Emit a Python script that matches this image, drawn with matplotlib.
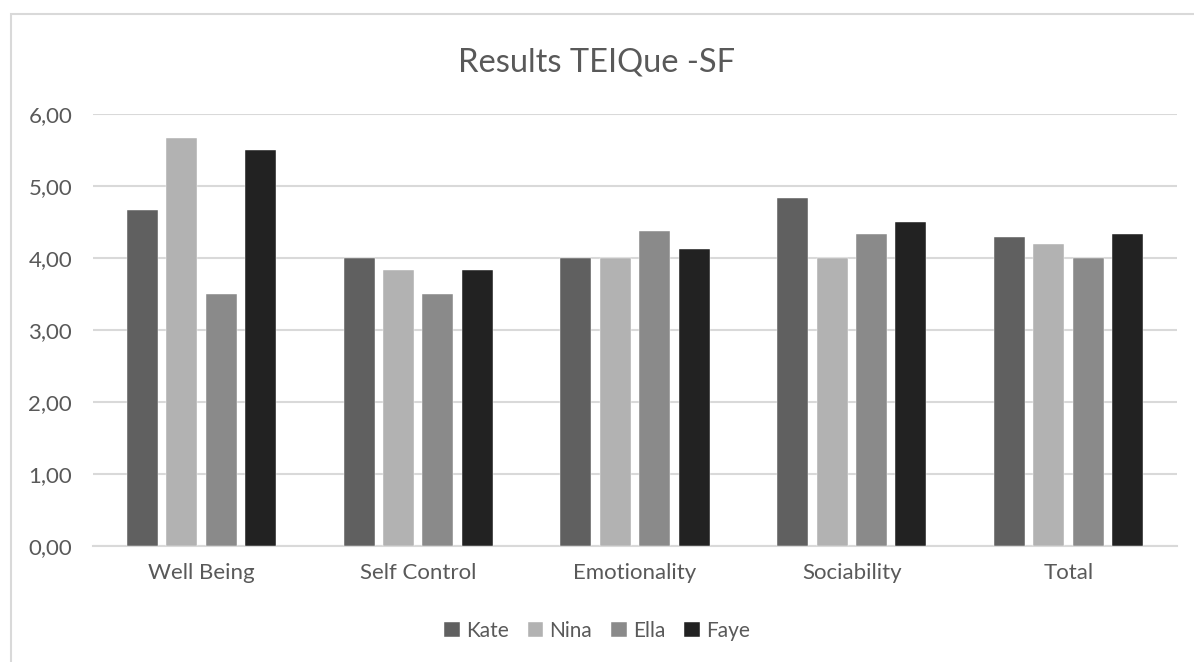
import numpy as np
import matplotlib
matplotlib.use("Agg")
import matplotlib.pyplot as plt
from matplotlib.patches import Rectangle

plt.rcParams['font.family'] = ['Lato', 'DejaVu Sans']

# TEIQue-SF factor scores per participant
categories = ['Well Being', 'Self Control', 'Emotionality', 'Sociability', 'Total']
names = ['Kate', 'Nina', 'Ella', 'Faye']
kate = [4.67, 4.00, 4.00, 4.83, 4.29]
nina = [5.67, 3.83, 4.00, 4.00, 4.19]
ella = [3.50, 3.50, 4.38, 4.33, 4.00]
faye = [5.50, 3.83, 4.13, 4.50, 4.33]
yticks = [0, 1, 2, 3, 4, 5, 6]

colors = ['#606060', '#b2b2b2', '#8a8a8a', '#222222']
text_col = '#595959'
grid_col = '#d9d9d9'

fig = plt.figure(figsize=(11.94, 6.62), dpi=100)
# chart frame
fig.patches.append(Rectangle((11 / 1194, -0.1), 1.2, 1 - 14 / 662 + 0.1,
                             transform=fig.transFigure, fill=False,
                             edgecolor=grid_col, lw=1.5))

ax = fig.add_axes([93 / 1194, 116 / 662, 1084 / 1194, 432 / 662])

x = np.arange(len(categories))
step = 0.182
width = 0.143
for i, (vals, name) in enumerate(zip([kate, nina, ella, faye], names)):
    ax.bar(x + (i - 1.5) * step, vals, width, color=colors[i], label=name,
           zorder=3, edgecolor='white', linewidth=0.3)

ax.set_xlim(-0.5, len(categories) - 0.5)
ax.set_ylim(0, 6)
ax.set_yticks(yticks)
ax.set_yticklabels([f'{v:.2f}'.replace('.', ',') for v in yticks])
ax.set_xticks(x)
ax.set_xticklabels(categories)
ax.tick_params(axis='both', length=0, labelsize=16, colors=text_col)
ax.tick_params(axis='y', pad=15)
ax.tick_params(axis='x', pad=12)
ax.yaxis.grid(True, color=grid_col, lw=1.5, zorder=0)
for s in ['top', 'right', 'left']:
    ax.spines[s].set_visible(False)
ax.spines['bottom'].set_color(grid_col)
ax.spines['bottom'].set_linewidth(1.5)

fig.text(0.5, 1 - 62 / 662, 'Results TEIQue -SF', ha='center', va='center',
         fontsize=23.5, color=text_col)

fig.legend(loc='center', bbox_to_anchor=(0.5, 1 - 631 / 662), ncol=4,
           frameon=False, fontsize=15, labelcolor=text_col,
           handlelength=0.75, handleheight=0.75, handletextpad=0.3,
           columnspacing=0.9)

fig.savefig('out.png', dpi=100)
